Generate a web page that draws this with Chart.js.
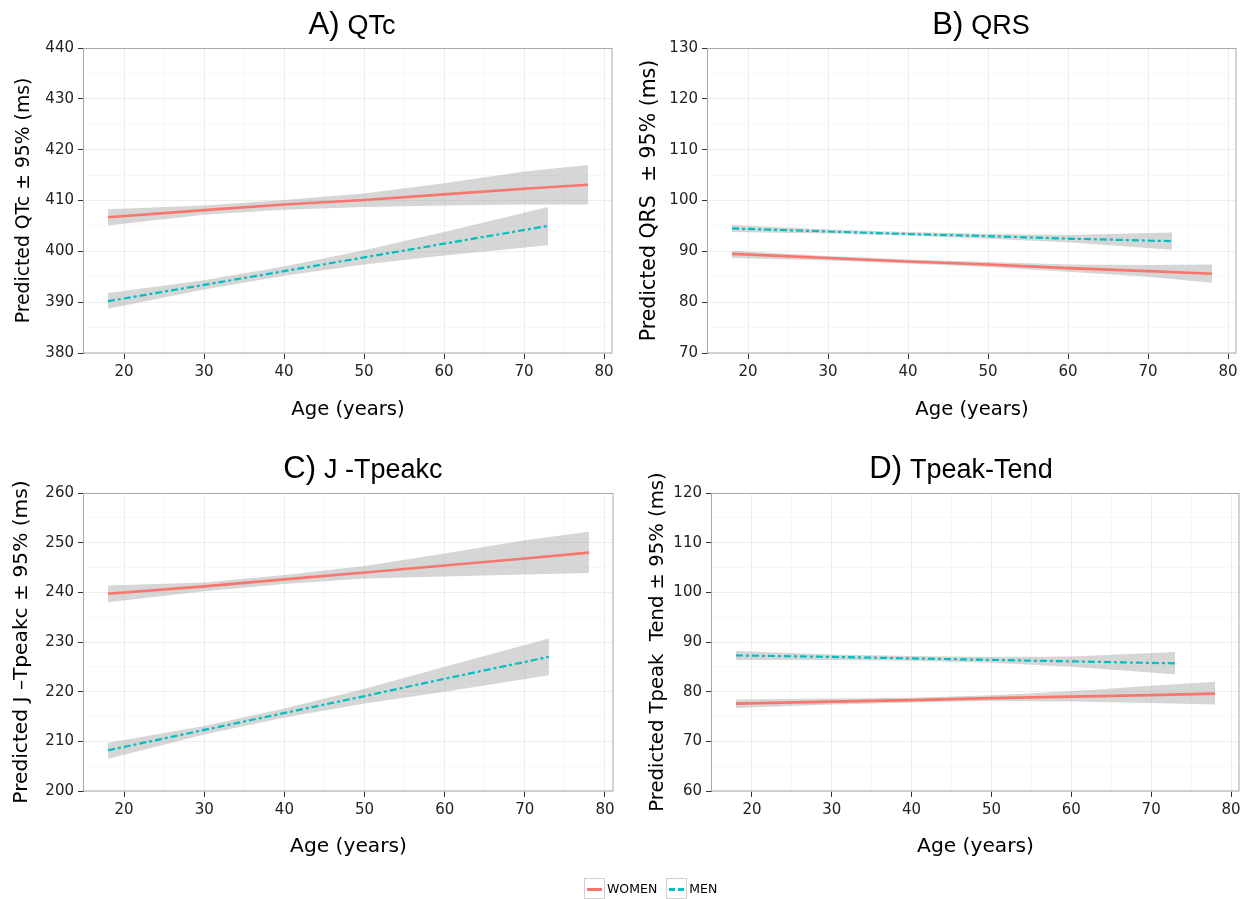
<!DOCTYPE html>
<html>
<head>
<meta charset="utf-8">
<script src="https://cdn.jsdelivr.net/npm/chart.js@4.4.1/dist/chart.umd.min.js"></script>
<style>
  html, body { margin: 0; padding: 0; background: #fff; }
  body { width: 1248px; height: 899px; position: relative; overflow: hidden; }
  canvas { position: absolute; }
  .ttl { position: absolute; font-family: "Liberation Sans", Arial, sans-serif; color: #000; white-space: nowrap; line-height: 1; transform: translateX(-50%); }
  .ttl .big { font-size: 31px; margin-right: 8px; }
  .ttl .sm { font-size: 27px; }
  .legend { position: absolute; top: 878px; left: 584px; font-family: "DejaVu Sans", sans-serif; font-size: 12.5px; color: #000; display: flex; align-items: flex-start; }
  .key { width: 21px; height: 21px; border: 1px solid #d0d0d0; box-sizing: border-box; position: relative; background: #fff; }
  .key span { position: absolute; left: 2px; right: 2px; top: 9px; height: 0; }
  .lab { margin-left: 2px; margin-right: 9px; line-height: 21px; }
</style>
</head>
<body>
<canvas id="cA" width="624" height="440" style="left:0;top:0;width:624px;height:440px"></canvas>
<canvas id="cB" width="624" height="440" style="left:624px;top:0;width:624px;height:440px"></canvas>
<canvas id="cC" width="624" height="440" style="left:0;top:440px;width:624px;height:440px"></canvas>
<canvas id="cD" width="624" height="440" style="left:624px;top:440px;width:624px;height:440px"></canvas>

<div class="ttl" style="left:352px;top:8px"><span class="big">A)</span><span class="sm">QTc</span></div>
<div class="ttl" style="left:981px;top:8px"><span class="big">B)</span><span class="sm">QRS</span></div>
<div class="ttl" style="left:363px;top:452px"><span class="big">C)</span><span class="sm">J -Tpeakc</span></div>
<div class="ttl" style="left:961px;top:452px"><span class="big">D)</span><span class="sm">Tpeak-Tend</span></div>

<div class="legend">
  <div class="key"><span style="border-top:3px solid #F8766D"></span></div><div class="lab">WOMEN</div>
  <div class="key"><span style="border-top:3px dashed #00BFC4"></span></div><div class="lab">MEN</div>
</div>

<script>
// ---------- data ----------
const agesWomen = [18, 30, 40, 50, 60, 70, 78];
const agesMen   = [18, 30, 40, 50, 60, 73];
const xMajor = [20, 30, 40, 50, 60, 70, 80];
const xMinor = [25, 35, 45, 55, 65, 75];

// A) QTc
const qtcWomen   = [406.7, 408.1, 409.2, 410.1, 411.2, 412.3, 413.1];
const qtcWomenHi = [408.3, 409.0, 410.1, 411.4, 413.4, 415.7, 417.0];
const qtcWomenLo = [405.1, 407.2, 408.2, 408.7, 409.0, 409.2, 409.2];
const qtcMen     = [390.2, 393.4, 396.1, 398.8, 401.5, 405.0];
const qtcMenHi   = [391.8, 394.3, 397.0, 400.2, 403.8, 408.7];
const qtcMenLo   = [388.7, 392.5, 395.2, 397.4, 399.2, 401.2];
const qtcMajor = [380, 390, 400, 410, 420, 430, 440];
const qtcMinor = [385, 395, 405, 415, 425, 435];

// B) QRS
const qrsWomen   = [89.5, 88.7, 88.0, 87.4, 86.7, 86.1, 85.6];
const qrsWomenHi = [90.1, 89.1, 88.4, 87.9, 87.4, 87.3, 87.4];
const qrsWomenLo = [88.7, 88.2, 87.6, 86.9, 86.0, 85.0, 83.8];
const qrsMen     = [94.5, 93.9, 93.4, 93.0, 92.5, 92.0];
const qrsMenHi   = [95.2, 94.3, 93.8, 93.4, 93.2, 93.7];
const qrsMenLo   = [93.8, 93.5, 93.1, 92.5, 91.8, 90.3];
const qrsMajor = [70, 80, 90, 100, 110, 120, 130];
const qrsMinor = [75, 85, 95, 105, 115, 125];

// C) J-Tpeakc
const jtWomen   = [239.7, 241.2, 242.6, 244.0, 245.4, 246.8, 248.0];
const jtWomenHi = [241.4, 242.0, 243.5, 245.3, 247.8, 250.5, 252.2];
const jtWomenLo = [238.0, 240.2, 241.7, 242.8, 243.2, 243.6, 243.9];
const jtMen     = [208.2, 212.3, 215.7, 219.1, 222.6, 227.0];
const jtMenHi   = [209.7, 213.1, 216.6, 220.6, 225.0, 230.7];
const jtMenLo   = [206.5, 211.4, 214.8, 217.6, 220.0, 223.3];
const jtMajor = [200, 210, 220, 230, 240, 250, 260];
const jtMinor = [205, 215, 225, 235, 245, 255];

// D) Tpeak-Tend
const tpeWomen   = [77.6, 78.0, 78.3, 78.7, 79.0, 79.3, 79.6];
const tpeWomenHi = [78.4, 78.6, 78.8, 79.3, 80.1, 81.2, 82.0];
const tpeWomenLo = [76.7, 77.4, 77.8, 78.1, 78.0, 77.7, 77.4];
const tpeMen     = [87.3, 87.0, 86.7, 86.4, 86.1, 85.7];
const tpeMenHi   = [88.2, 87.5, 87.2, 87.0, 87.1, 88.0];
const tpeMenLo   = [86.4, 86.4, 86.2, 85.8, 85.0, 83.5];
const tpeMajor = [60, 70, 80, 90, 100, 110, 120];
const tpeMinor = [65, 75, 85, 95, 105, 115];

// ---------- styling ----------
const WOMEN_COLOR = '#F8766D';
const MEN_COLOR = '#00BFC4';
const BAND_COLOR = 'rgba(153,153,153,0.4)';
const MAJOR_GRID = '#ededed';
const MINOR_GRID = '#f7f7f7';

Chart.defaults.font.family = '"DejaVu Sans", sans-serif';
Chart.defaults.color = '#222';

const pts = (xs, ys) => xs.map((x, i) => ({ x: x, y: ys[i] }));

const borderPlugin = {
  id: 'panelBorder',
  afterDatasetsDraw(chart) {
    const a = chart.chartArea, ctx = chart.ctx;
    ctx.save();
    ctx.strokeStyle = '#a8a8a8';
    ctx.lineWidth = 1;
    ctx.strokeRect(Math.round(a.left) - 0.5, Math.round(a.top) + 0.5,
                   Math.round(a.right - a.left) + 0.5, Math.round(a.bottom - a.top) - 0.5);
    ctx.restore();
  }
};

function makePanel(id, p) {
  const lineW = { borderColor: WOMEN_COLOR, borderWidth: 2.6, pointRadius: 0, fill: false, tension: 0 };
  const lineM = { borderColor: MEN_COLOR, borderWidth: 2.2, borderDash: [7, 3, 3, 3], pointRadius: 0, fill: false, tension: 0 };
  const bandEdge = { borderColor: 'rgba(0,0,0,0)', borderWidth: 0, pointRadius: 0, tension: 0 };
  const datasets = [
    Object.assign({ data: pts(agesMen, p.men) }, lineM),
    Object.assign({ data: pts(agesWomen, p.women) }, lineW),
    Object.assign({ data: pts(agesWomen, p.womenLo), fill: false }, bandEdge),
    Object.assign({ data: pts(agesWomen, p.womenHi), fill: '-1', backgroundColor: BAND_COLOR }, bandEdge),
    Object.assign({ data: pts(agesMen, p.menLo), fill: false }, bandEdge),
    Object.assign({ data: pts(agesMen, p.menHi), fill: '-1', backgroundColor: BAND_COLOR }, bandEdge)
  ];
  const gridFor = (major) => ({
    color: c => major.includes(c.tick.value) ? MAJOR_GRID : MINOR_GRID,
    tickColor: c => major.includes(c.tick.value) ? '#333' : 'rgba(0,0,0,0)',
    tickLength: 6,
    lineWidth: 1,
    drawTicks: true
  });
  new Chart(document.getElementById(id), {
    type: 'line',
    data: { datasets },
    plugins: [borderPlugin],
    options: {
      responsive: false,
      animation: false,
      layout: { padding: { left: 0, top: p.padTop, right: p.padRight, bottom: 0 } },
      plugins: { legend: { display: false }, tooltip: { enabled: false } },
      scales: {
        x: {
          type: 'linear', min: 15, max: 81,
          border: { display: false },
          grid: gridFor(xMajor),
          afterBuildTicks: s => { s.ticks = xMajor.concat(xMinor).sort((a, b) => a - b).map(v => ({ value: v })); },
          afterFit: s => { s.height = p.xHeight; },
          ticks: { autoSkip: false, maxRotation: 0, padding: 4, font: { size: 15 },
                   callback: v => xMajor.includes(v) ? String(v) : '' },
          title: { display: true, text: 'Age (years)', font: { size: p.xTitleSize }, color: '#000',
                   padding: { top: 0, bottom: p.xTitlePad } }
        },
        y: {
          type: 'linear', min: p.yMin, max: p.yMax,
          border: { display: false },
          grid: gridFor(p.yMajor),
          afterBuildTicks: s => { s.ticks = p.yMajor.concat(p.yMinor).sort((a, b) => a - b).map(v => ({ value: v })); },
          afterFit: s => { s.width = p.yWidth; },
          ticks: { autoSkip: false, padding: 4, font: { size: 15 },
                   callback: v => p.yMajor.includes(v) ? String(v) : '' },
          title: { display: true, text: p.yTitle, font: { size: p.yTitleSize }, color: '#000',
                   padding: { top: p.yTitlePad, bottom: 0 } }
        }
      }
    }
  });
}

makePanel('cA', { women: qtcWomen, womenHi: qtcWomenHi, womenLo: qtcWomenLo,
  men: qtcMen, menHi: qtcMenHi, menLo: qtcMenLo, yMin: 380, yMax: 440, yMajor: qtcMajor, yMinor: qtcMinor,
  yTitle: 'Predicted QTc ± 95% (ms)', yTitleSize: 18.8, yTitlePad: 13, yWidth: 84,
  padTop: 48, padRight: 12, xHeight: 87, xTitleSize: 19.6, xTitlePad: 18 });

makePanel('cB', { women: qrsWomen, womenHi: qrsWomenHi, womenLo: qrsWomenLo,
  men: qrsMen, menHi: qrsMenHi, menLo: qrsMenLo, yMin: 70, yMax: 130, yMajor: qrsMajor, yMinor: qrsMinor,
  yTitle: 'Predicted QRS  ± 95% (ms)', yTitleSize: 20.5, yTitlePad: 13, yWidth: 84,
  padTop: 48, padRight: 12, xHeight: 87, xTitleSize: 19.6, xTitlePad: 18 });

makePanel('cC', { women: jtWomen, womenHi: jtWomenHi, womenLo: jtWomenLo,
  men: jtMen, menHi: jtMenHi, menLo: jtMenLo, yMin: 200, yMax: 260, yMajor: jtMajor, yMinor: jtMinor,
  yTitle: 'Predicted J –Tpeakc ± 95% (ms)', yTitleSize: 20.2, yTitlePad: 10, yWidth: 84,
  padTop: 53, padRight: 11, xHeight: 89, xTitleSize: 20.2, xTitlePad: 21 });

makePanel('cD', { women: tpeWomen, womenHi: tpeWomenHi, womenLo: tpeWomenLo,
  men: tpeMen, menHi: tpeMenHi, menLo: tpeMenLo, yMin: 60, yMax: 120, yMajor: tpeMajor, yMinor: tpeMinor,
  yTitle: 'Predicted Tpeak  Tend ± 95% (ms)', yTitleSize: 19.6, yTitlePad: 22, yWidth: 88,
  padTop: 53, padRight: 9, xHeight: 89, xTitleSize: 20.2, xTitlePad: 21 });
</script>
</body>
</html>
